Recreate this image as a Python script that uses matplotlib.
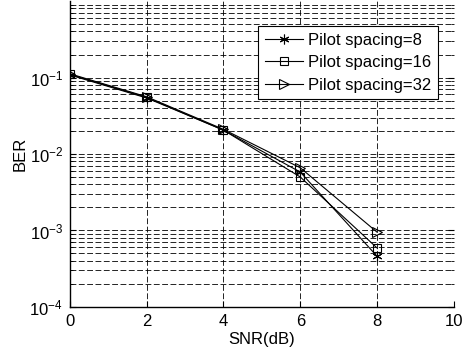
import numpy as np
import matplotlib
matplotlib.use("Agg")
import matplotlib.pyplot as plt

plt.rcParams['font.family'] = ['Liberation Sans', 'DejaVu Sans']
plt.rcParams['font.size'] = 12

# data
snr = [0, 2, 4, 6, 8]
ber_8 = [0.108, 0.054, 0.0205, 0.0058, 0.00046]
ber_16 = [0.110, 0.055, 0.0205, 0.0050, 0.00059]
ber_32 = [0.112, 0.056, 0.021, 0.0066, 0.00095]
labels = ['Pilot spacing=8', 'Pilot spacing=16', 'Pilot spacing=32']

fig = plt.figure(figsize=(4.66, 3.5), dpi=100)
ax = fig.add_axes([0.150, 0.123, 0.824, 0.874])

ax.semilogy(snr, ber_8, '-', color='k', lw=0.8, marker=(6, 2, 0), ms=7,
            mew=0.8, label=labels[0])
ax.semilogy(snr, ber_16, '-', color='k', lw=0.8, marker='s', ms=6,
            mfc='none', mew=0.8, label=labels[1])
ax.semilogy(snr, ber_32, '-', color='k', lw=0.8, marker='>', ms=7,
            mfc='none', mew=0.8, label=labels[2])

ax.set_xlim(0, 10)
ax.set_ylim(1e-4, 1)
ax.set_xticks([0, 2, 4, 6, 8, 10])
ax.set_yticks([1e-4, 1e-3, 1e-2, 1e-1])

# matlab-like dashed grid
ax.grid(True, which='major', axis='both', color='k', lw=0.6, ls=(0, (7, 3)))
ax.grid(True, which='minor', axis='y', color='k', lw=0.6, ls=(0, (7, 3)))

ax.spines['top'].set_visible(False)
ax.spines['right'].set_visible(False)
ax.spines['left'].set_linewidth(1.0)
ax.spines['bottom'].set_linewidth(1.0)
ax.tick_params(which='both', direction='in', right=True, top=False)
ax.tick_params(which='major', length=4, pad=5)
ax.tick_params(which='minor', length=2)

ax.set_xlabel('SNR(dB)', labelpad=2)
ax.set_ylabel('BER', labelpad=1)

leg = ax.legend(loc='upper right', bbox_to_anchor=(0.958, 0.918),
                fancybox=False, framealpha=1, edgecolor='k',
                handlelength=2.3, handletextpad=0.3, borderpad=0.4,
                labelspacing=0.45, borderaxespad=0)
leg.get_frame().set_linewidth(0.8)

fig.savefig('out.png', dpi=100)
